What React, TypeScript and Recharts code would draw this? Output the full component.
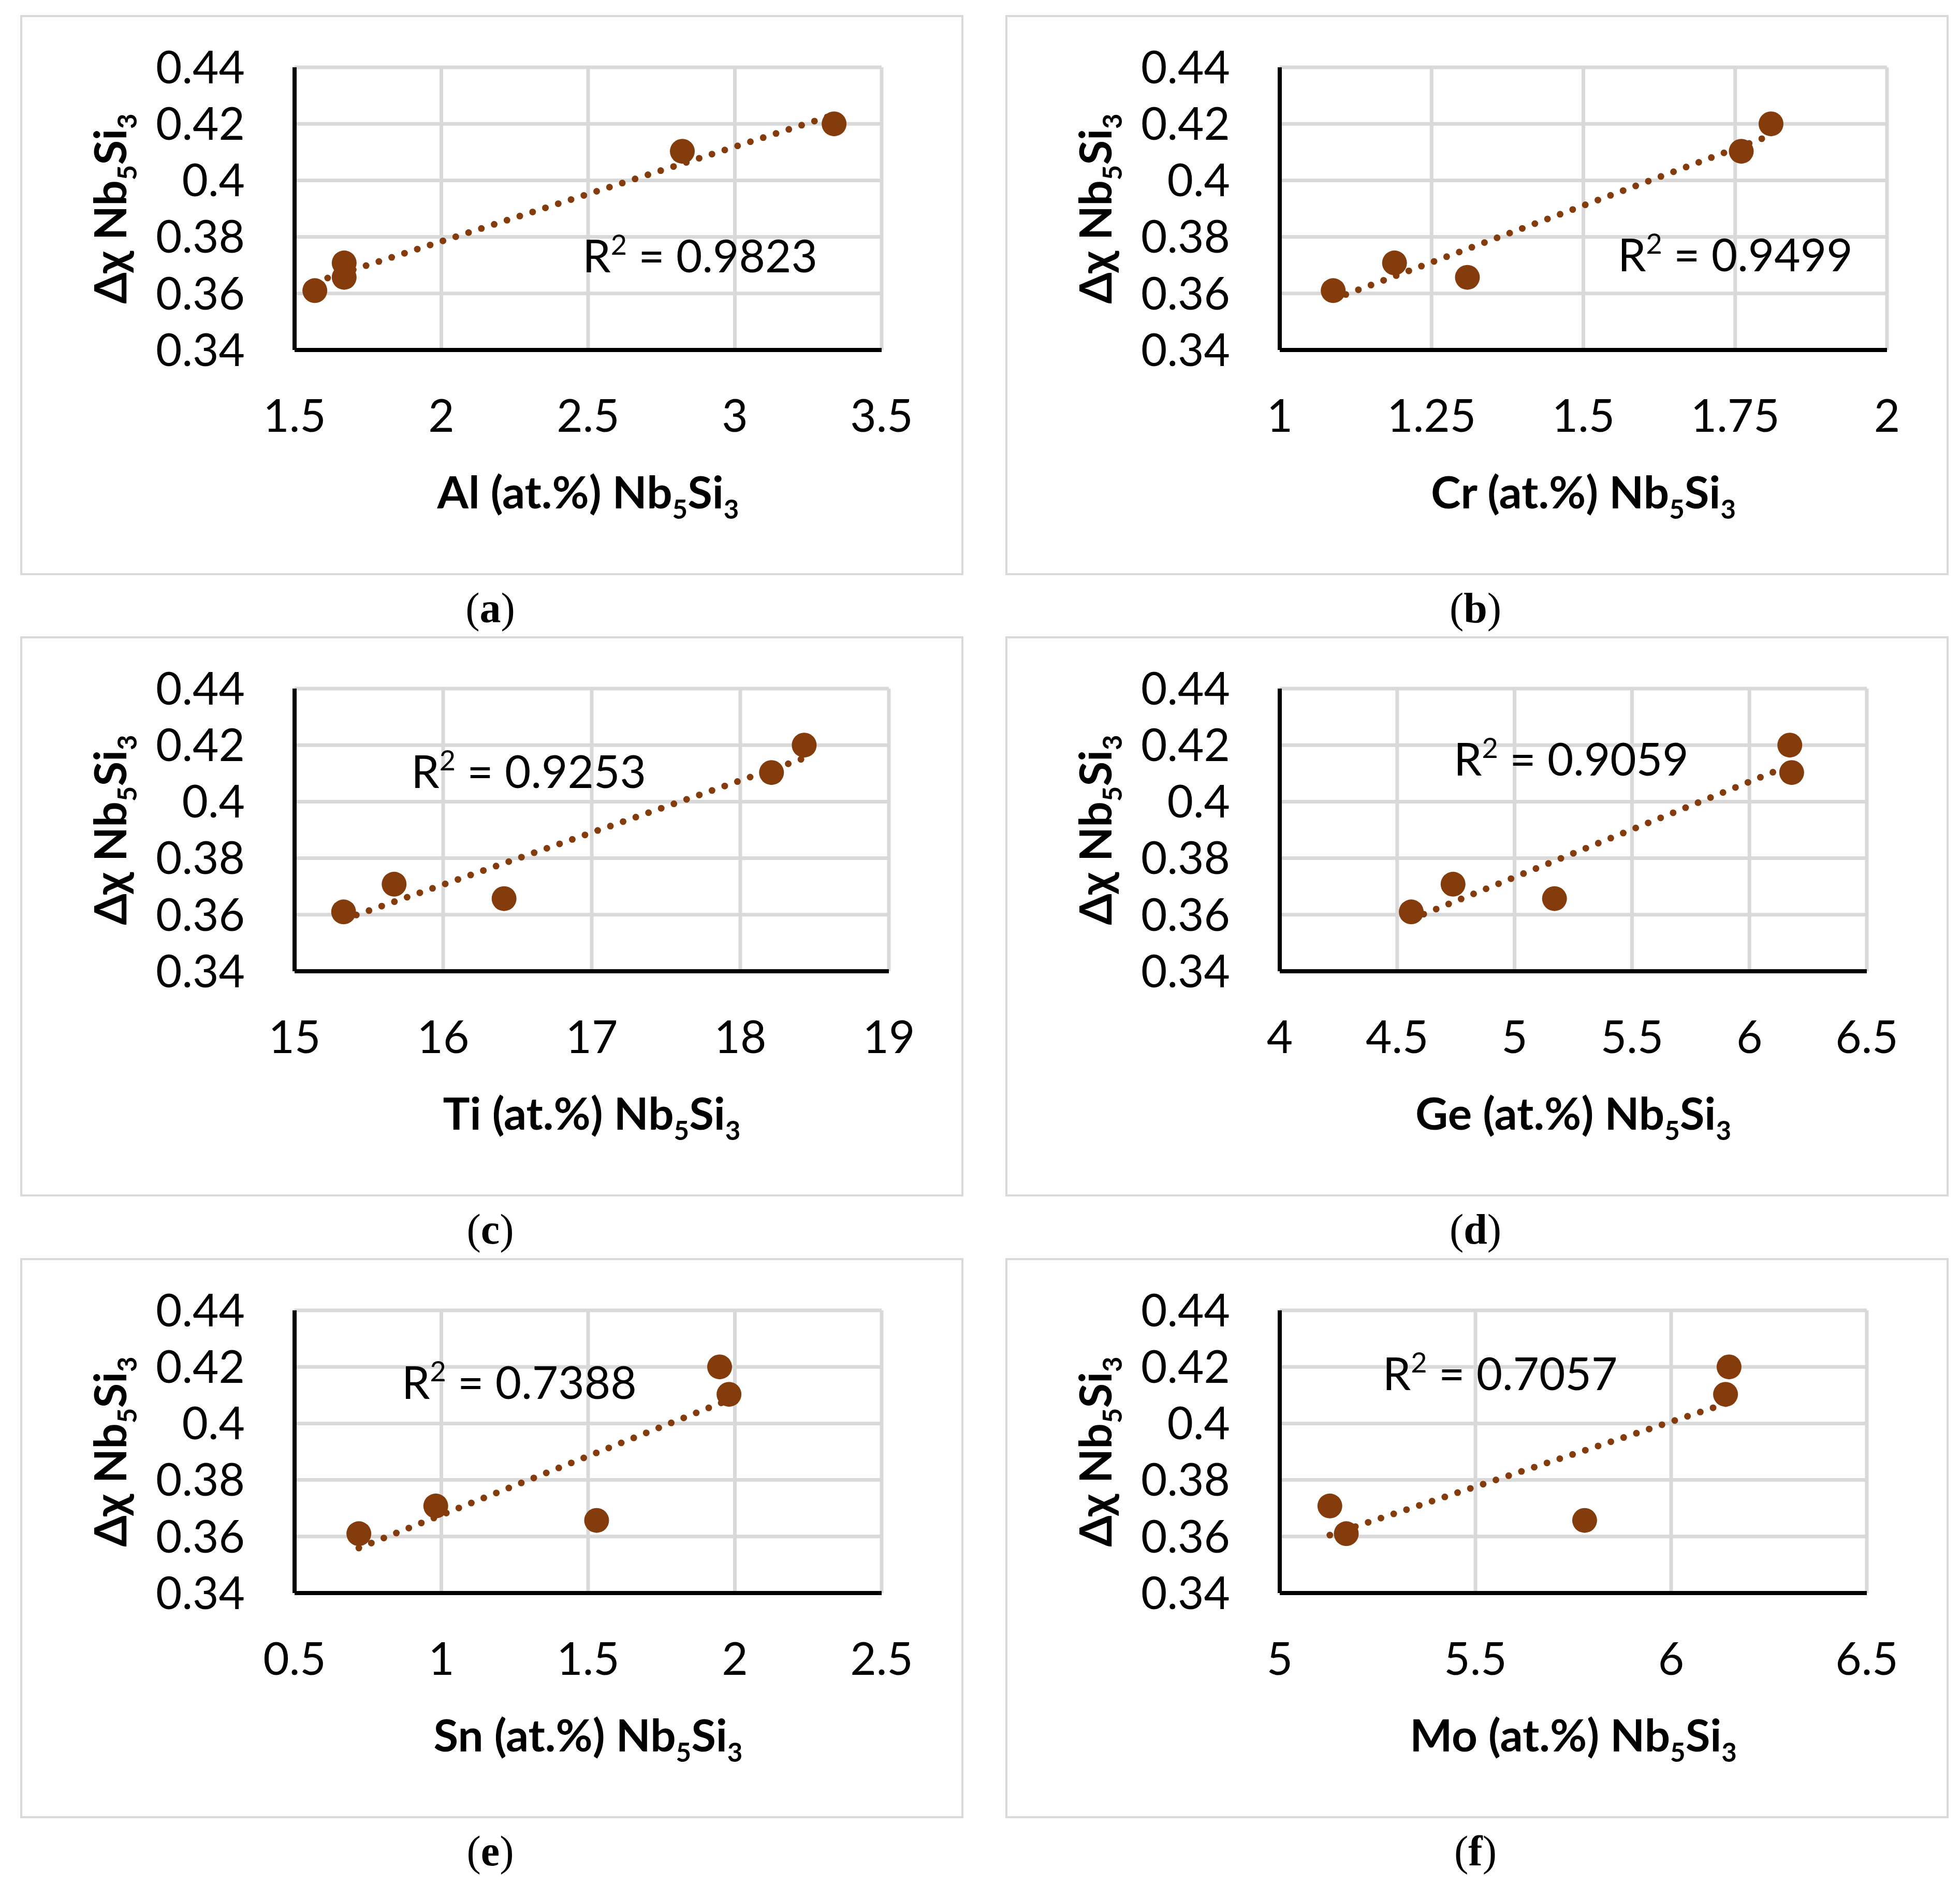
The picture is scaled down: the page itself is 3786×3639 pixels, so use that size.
import React from 'react';
import { ScatterChart, Scatter, XAxis, YAxis, CartesianGrid, ReferenceDot } from 'recharts';

// ---- data ----
const DELTA_CHI = [0.361, 0.3708, 0.3657, 0.4103, 0.42];
const AL_X = [1.569, 1.669, 1.669, 2.821, 3.338];
const CR_X = [1.088, 1.189, 1.309, 1.76, 1.809];
const TI_X = [15.33, 15.67, 16.41, 18.21, 18.43];
const GE_X = [4.56, 4.738, 5.17, 6.18, 6.172];
const SN_X = [0.719, 0.981, 1.529, 1.98, 1.948];
const MO_X = [5.17, 5.128, 5.779, 6.139, 6.148];

const Y_TICKS = [0.34, 0.36, 0.38, 0.4, 0.42, 0.44];
const AL_TICKS = [1.5, 2, 2.5, 3, 3.5];
const CR_TICKS = [1, 1.25, 1.5, 1.75, 2];
const TI_TICKS = [15, 16, 17, 18, 19];
const GE_TICKS = [4, 4.5, 5, 5.5, 6, 6.5];
const SN_TICKS = [0.5, 1, 1.5, 2, 2.5];
const MO_TICKS = [5, 5.5, 6, 6.5];

const ELEMENTS = ['Al', 'Cr', 'Ti', 'Ge', 'Sn', 'Mo'];
const R2_TEXT = ['0.9823', '0.9499', '0.9253', '0.9059', '0.7388', '0.7057'];
const R2_AT_X = [2.881, 1.75, 16.575, 5.241, 1.265, 5.563];
const R2_AT_Y = [0.3732, 0.3735, 0.4105, 0.4149, 0.4144, 0.4175];
const LETTERS = ['a', 'b', 'c', 'd', 'e', 'f'];

const X_SERIES = [AL_X, CR_X, TI_X, GE_X, SN_X, MO_X];
const X_TICKS = [AL_TICKS, CR_TICKS, TI_TICKS, GE_TICKS, SN_TICKS, MO_TICKS];

// ---- layout / style ----
const COL_LEFT = [39, 1942];
const ROW_TOP = [29, 1229, 2430];
const PANEL_W = 1822;
const PANEL_H = 1082;
const PLOT_TOP = 101;
const Y_AXIS_W = 530;
const X_AXIS_H = 435;
const RIGHT_MARGIN = [158, 119, 144, 158, 158, 158];
const BROWN = '#843C0C';
const GRID = '#D9D9D9';
const FONT = "Lato, 'Open Sans', 'DejaVu Sans', sans-serif";
const FS = 87;
const SUB_FS = 51;
const SUB_DY = 20;

function fitLine(xs: number[], ys: number[]) {
  const n = xs.length;
  const mx = xs.reduce((a, b) => a + b, 0) / n;
  const my = ys.reduce((a, b) => a + b, 0) / n;
  let sxy = 0;
  let sxx = 0;
  for (let i = 0; i < n; i++) {
    sxy += (xs[i] - mx) * (ys[i] - my);
    sxx += (xs[i] - mx) * (xs[i] - mx);
  }
  const slope = sxy / sxx;
  const icpt = my - slope * mx;
  const x0 = Math.min(...xs);
  const x1 = Math.max(...xs);
  return [
    { x: x0, y: icpt + slope * x0 },
    { x: x1, y: icpt + slope * x1 },
  ];
}

function XTitle(props: any) {
  const vb = props.viewBox || {};
  const x = (vb.x ?? Y_AXIS_W) + (vb.width ?? 1100) / 2;
  const y = (vb.y ?? PLOT_TOP + 546) + 306;
  return (
    <text x={x} y={y} textAnchor="middle" fontFamily={FONT} fontSize={FS} fontWeight="bold" fill="#000">
      {props.element + ' (at.%) Nb'}
      <tspan dy={SUB_DY} fontSize={SUB_FS}>5</tspan>
      <tspan dy={-SUB_DY}>Si</tspan>
      <tspan dy={SUB_DY} fontSize={SUB_FS}>3</tspan>
    </text>
  );
}

function YTitle(props: any) {
  const vb = props.viewBox || {};
  const bx = (vb.x ?? 0) + 205;
  const cy = (vb.y ?? PLOT_TOP) + (vb.height ?? 546) / 2;
  return (
    <text
      x={bx}
      y={cy}
      transform={`rotate(-90 ${bx} ${cy})`}
      textAnchor="middle"
      fontFamily={FONT}
      fontSize={FS}
      fontWeight="bold"
      fill="#000"
    >
      {'Δχ Nb'}
      <tspan dy={SUB_DY} fontSize={SUB_FS}>5</tspan>
      <tspan dy={-SUB_DY}>Si</tspan>
      <tspan dy={SUB_DY} fontSize={SUB_FS}>3</tspan>
    </text>
  );
}

function R2Label(props: any) {
  const { cx, cy, text } = props;
  if (cx == null || cy == null) return <g />;
  return (
    <text x={cx} y={cy + 31} textAnchor="middle" fontFamily={FONT} fontSize={FS} fill="#000">
      <tspan>R</tspan>
      <tspan dy={-34} fontSize={54}>2</tspan>
      <tspan dy={34}>{' = ' + text}</tspan>
    </text>
  );
}

function Marker(props: any) {
  const { cx, cy } = props;
  if (cx == null || cy == null) return <g />;
  return <circle cx={cx} cy={cy} r={24} fill={BROWN} />;
}

function Panel({ idx }: { idx: number }) {
  const xs = X_SERIES[idx];
  const ticks = X_TICKS[idx];
  const data = xs.map((x, i) => ({ x, y: DELTA_CHI[i] }));
  const trend = fitLine(xs, DELTA_CHI);
  const left = COL_LEFT[idx % 2];
  const top = ROW_TOP[Math.floor(idx / 2)];
  const element = ELEMENTS[idx];
  return (
    <div style={{ position: 'absolute', left, top, width: PANEL_W, height: PANEL_H }}>
      <div
        style={{
          position: 'absolute',
          left: 0,
          top: 0,
          width: PANEL_W,
          height: PANEL_H,
          border: `4px solid ${GRID}`,
          boxSizing: 'border-box',
        }}
      />
      <div style={{ position: 'absolute', left: 0, top: 0 }}>
        <ScatterChart
          width={PANEL_W}
          height={PANEL_H}
          margin={{ top: PLOT_TOP, right: RIGHT_MARGIN[idx], left: 0, bottom: 0 }}
        >
          <CartesianGrid stroke={GRID} strokeWidth={7} />
          <XAxis
            type="number"
            dataKey="x"
            domain={[ticks[0], ticks[ticks.length - 1]]}
            ticks={ticks}
            interval={0}
            height={X_AXIS_H}
            tickSize={0}
            tickMargin={96}
            tickLine={false}
            axisLine={{ stroke: '#000', strokeWidth: 8 }}
            tick={{ fill: '#000', fontSize: FS, fontFamily: FONT }}
            label={(p: any) => <XTitle {...p} element={element} />}
          />
          <YAxis
            type="number"
            dataKey="y"
            domain={[0.34, 0.44]}
            ticks={Y_TICKS}
            interval={0}
            width={Y_AXIS_W}
            tickSize={0}
            tickMargin={96}
            tickLine={false}
            axisLine={{ stroke: '#000', strokeWidth: 8 }}
            tick={{ fill: '#000', fontSize: FS, fontFamily: FONT }}
            label={(p: any) => <YTitle {...p} />}
          />
          <Scatter data={data} fill={BROWN} shape={(p: any) => <Marker {...p} />} isAnimationActive={false} />
          <Scatter
            data={trend}
            fill={BROWN}
            line={{ stroke: BROWN, strokeWidth: 13, strokeDasharray: '0 26', strokeLinecap: 'round' }}
            shape={() => <g />}
            isAnimationActive={false}
          />
          <ReferenceDot
            x={R2_AT_X[idx]}
            y={R2_AT_Y[idx]}
            r={1}
            shape={(p: any) => <R2Label {...p} text={R2_TEXT[idx]} />}
          />
        </ScatterChart>
      </div>
    </div>
  );
}

export default function App() {
  return (
    <div
      style={{
        position: 'absolute',
        left: 0,
        top: 0,
        width: 3786,
        height: 3639,
        background: '#fff',
        overflow: 'hidden',
      }}
    >
      {LETTERS.map((_, i) => (
        <Panel key={i} idx={i} />
      ))}
      <svg width={3786} height={3639} style={{ position: 'absolute', left: 0, top: 0, pointerEvents: 'none' }}>
        {LETTERS.map((l, i) => (
          <text
            key={l}
            x={COL_LEFT[i % 2] + PANEL_W / 2 - 3}
            y={ROW_TOP[Math.floor(i / 2)] + 1173}
            textAnchor="middle"
            fontFamily="'Liberation Serif', 'DejaVu Serif', serif"
            fontSize={82}
            fill="#000"
          >
            {'('}
            <tspan fontWeight="bold">{l}</tspan>
            {')'}
          </text>
        ))}
      </svg>
    </div>
  );
}
